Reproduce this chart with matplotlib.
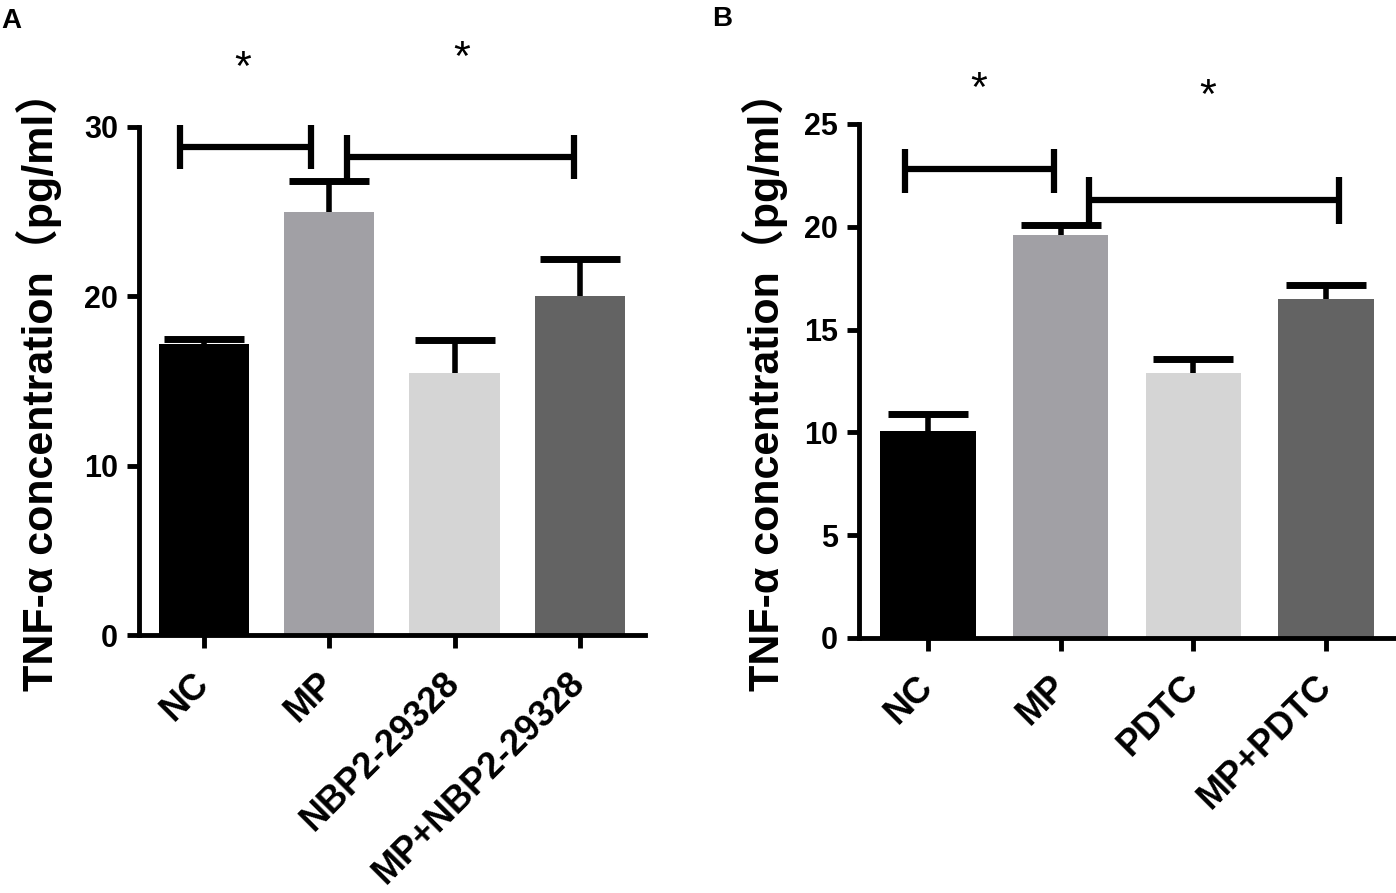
import numpy as np
import matplotlib
matplotlib.use("Agg")
import matplotlib.pyplot as plt

plt.rcParams['font.family'] = ['Liberation Sans', 'Noto Sans CJK SC', 'DejaVu Sans']
plt.rcParams['font.weight'] = 'bold'

# datos panel A
groups_a = ["NC", "MP", "NBP2-29328", "MP+NBP2-29328"]
means_a = [17.2, 25.0, 15.5, 20.0]
sem_a = [0.3, 1.8, 1.9, 2.2]

# datos panel B
groups_b = ["NC", "MP", "PDTC", "MP+PDTC"]
means_b = [10.05, 19.6, 12.9, 16.5]
sem_b = [0.85, 0.5, 0.65, 0.65]

colors = ["#000000", "#a1a0a5", "#d5d5d5", "#636363"]
ylabel = "TNF-α concentration（pg/ml）"

# brackets: (x1, x2, y, y_low, y_high) y estrellas
brackets_a = [(-0.19, 0.85, 28.8, 27.5, 30.1), (1.14, 2.95, 28.2, 26.9, 29.5)]
stars_a = [(0.31, 33.4), (2.06, 34.0)]
brackets_b = [(-0.17, 0.95, 22.8, 21.65, 23.8), (1.21, 3.1, 21.3, 20.15, 22.4)]
stars_b = [(0.38, 26.65), (2.11, 26.3)]

fig = plt.figure(figsize=(13.96, 8.93), dpi=100)
ax_a = fig.add_axes([0.0995, 0.2889, 0.3625, 0.5689])
ax_b = fig.add_axes([0.6153, 0.2856, 0.3840, 0.5756])


def draw_panel(ax, groups, means, sem, ymax, yticks, brackets, stars, lab_x):
    x = np.arange(len(groups))
    ax.bar(x, means, width=0.72, color=colors, zorder=2)
    eb = ax.errorbar(x, means, yerr=[np.zeros(len(sem)), sem], fmt='none', ecolor='black',
                     elinewidth=4, capsize=29, capthick=5, zorder=3)
    eb[1][0].set_visible(False)  # sin tapa inferior
    ax.set_xlim(-0.52, 3.52)
    ax.set_ylim(0, ymax)
    ax.set_yticks(yticks)
    ax.set_xticks(x)
    ax.set_xticklabels(groups, rotation=45, ha='right', va='center', rotation_mode='anchor',
                       fontsize=26, fontweight='bold')
    for t in ax.get_yticklabels():
        t.set_fontsize(22)
        t.set_fontweight('bold')
    ax.spines['top'].set_visible(False)
    ax.spines['right'].set_visible(False)
    ax.spines['left'].set_linewidth(3.5)
    ax.spines['bottom'].set_linewidth(3.5)
    ax.tick_params(axis='both', width=3.5, length=9, pad=6)
    ax.tick_params(axis='x', pad=22)
    ax.set_ylabel(ylabel, fontsize=31, fontweight='bold')
    ax.yaxis.label.set_va('center')
    ax.yaxis.set_label_coords(lab_x, 0.5)
    for x1, x2, y, ylo, yhi in brackets:
        ax.plot([x1, x2], [y, y], color='black', lw=4.5, clip_on=False, solid_capstyle='butt')
        ax.plot([x1, x1], [ylo, yhi], color='black', lw=4.5, clip_on=False, solid_capstyle='butt')
        ax.plot([x2, x2], [ylo, yhi], color='black', lw=4.5, clip_on=False, solid_capstyle='butt')
    for sx, sy in stars:
        ax.text(sx, sy, "*", fontsize=31, fontweight='normal', ha='center', va='center',
                clip_on=False)


draw_panel(ax_a, groups_a, means_a, sem_a, 30, [0, 10, 20, 30], brackets_a, stars_a, -0.197)
draw_panel(ax_b, groups_b, means_b, sem_b, 25, [0, 5, 10, 15, 20, 25], brackets_b, stars_b, -0.175)

fig.text(0.001, 0.976, "A", fontsize=20, fontweight='bold', va='center')
fig.text(0.510, 0.979, "B", fontsize=20, fontweight='bold', va='center')

plt.savefig("out.png", dpi=100)
